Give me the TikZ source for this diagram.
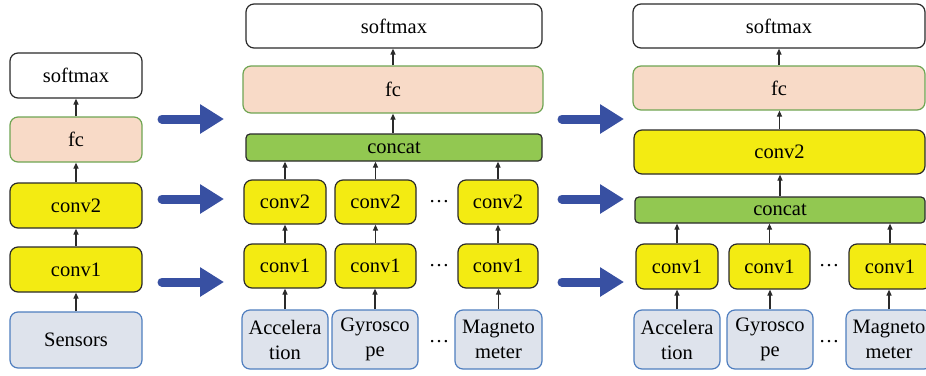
\documentclass[tikz,border=0pt]{standalone}
\usepackage{fontspec}
\setmainfont{Liberation Serif}
\usetikzlibrary{arrows.meta}
\definecolor{cyel}{HTML}{F3EB12}
\definecolor{cpeach}{HTML}{F8DAC7}
\definecolor{cpeachb}{HTML}{6FA553}
\definecolor{cgreen}{HTML}{92C851}
\definecolor{csens}{HTML}{DEE3EC}
\definecolor{csensb}{HTML}{4F7EBF}
\definecolor{cblue}{HTML}{3850A2}
\definecolor{cedge}{HTML}{2A2A2A}
\tikzset{
  box/.style={rectangle, rounded corners=8pt, line width=1.2pt, draw=cedge, inner sep=0pt,
    font=\fontsize{20.5}{25}\selectfont, align=center},
  smbox/.style={box, fill=white},
  fcbox/.style={box, fill=cpeach, draw=cpeachb},
  convbox/.style={box, fill=cyel},
  catbox/.style={box, fill=cgreen, rounded corners=4pt},
  sensbox/.style={box, fill=csens, draw=csensb},
  sarrow/.style={line width=1.2pt, draw=cedge, -{Triangle[length=6pt,width=5pt]}},
  bigarrow/.style={line width=9pt, draw=cblue, line cap=round, -{Triangle[length=24pt,width=28pt]}},
  dotsn/.style={font=\fontsize{20.5}{25}\selectfont, inner sep=0pt}
}
\begin{document}
\begin{tikzpicture}[x=1pt,y=-1pt]
\clip (0,0) rectangle (926,375);
\useasboundingbox (0,0) rectangle (926,375);
% left column
\node[smbox, minimum width=132, minimum height=45] (ls) at (76,75.5) {softmax};
\node[fcbox, minimum width=132, minimum height=45] (lf) at (76,139.5) {fc};
\node[convbox, minimum width=132, minimum height=45] (lc2) at (76,205.5) {conv2};
\node[convbox, minimum width=132, minimum height=45] (lc1) at (76,269.5) {conv1};
\node[sensbox, minimum width=132, minimum height=56] (lsn) at (76,340) {Sensors};
\draw[sarrow] (lsn.north) -- (lc1.south);
\draw[sarrow] (lc1.north) -- (lc2.south);
\draw[sarrow] (lc2.north) -- (lf.south);
\draw[sarrow] (lf.north) -- (ls.south);
% middle column
\node[smbox, minimum width=296, minimum height=44] (ms) at (394,26) {softmax};
\node[fcbox, minimum width=300, minimum height=47] (mf) at (393,89.5) {fc};
\node[catbox, minimum width=296, minimum height=27] (mcat) at (394,147.5) {concat};
\node[convbox, minimum width=82, minimum height=44] (m2a) at (285,202) {conv2};
\node[convbox, minimum width=81, minimum height=44] (m2b) at (375.5,202) {conv2};
\node[convbox, minimum width=80, minimum height=44] (m2c) at (498,202) {conv2};
\node[convbox, minimum width=82, minimum height=44] (m1a) at (285,266) {conv1};
\node[convbox, minimum width=81, minimum height=44] (m1b) at (375.5,266) {conv1};
\node[convbox, minimum width=80, minimum height=44] (m1c) at (498,266) {conv1};
\node[sensbox, minimum width=86, minimum height=59] (msa) at (285,339.5) {Accelera\\tion};
\node[sensbox, minimum width=86, minimum height=59] (msb) at (375,339.5) {Gyrosco\\pe};
\node[sensbox, minimum width=87, minimum height=59] (msc) at (498.5,339.5) {Magneto\\meter};
\node[dotsn] (md2) at (439,202) {\dots};
\node[dotsn] (md1) at (439,266) {\dots};
\node[dotsn] (mds) at (439,342) {\dots};
\draw[sarrow] (msa.north) -- (m1a.south);
\draw[sarrow] (msb.north) -- (msb.north |- m1b.south);
\draw[sarrow] (msc.north) -- (msc.north |- m1c.south);
\draw[sarrow] (m1a.north) -- (m2a.south);
\draw[sarrow] (m1b.north) -- (m2b.south);
\draw[sarrow] (m1c.north) -- (m2c.south);
\draw[sarrow] (m2a.north) -- (m2a.north |- mcat.south);
\draw[sarrow] (m2b.north) -- (m2b.north |- mcat.south);
\draw[sarrow] (m2c.north) -- (m2c.north |- mcat.south);
\draw[sarrow] (mcat.north -| mf.south) -- (mf.south);
\draw[sarrow] (mf.north) -- (mf.north |- ms.south);
% right column
\node[smbox, minimum width=292, minimum height=44] (rs) at (779,26) {softmax};
\node[fcbox, minimum width=292, minimum height=44] (rf) at (779,88) {fc};
\node[convbox, minimum width=291, minimum height=44] (rc2) at (779.5,152) {conv2};
\node[catbox, minimum width=290, minimum height=26] (rcat) at (780,210) {concat};
\node[convbox, minimum width=82, minimum height=45] (r1a) at (677,266.5) {conv1};
\node[convbox, minimum width=81, minimum height=45] (r1b) at (769.5,266.5) {conv1};
\node[convbox, minimum width=82, minimum height=45] (r1c) at (890,266.5) {conv1};
\node[sensbox, minimum width=86, minimum height=59] (rsa) at (677,339.5) {Accelera\\tion};
\node[sensbox, minimum width=86, minimum height=59] (rsb) at (770,339.5) {Gyrosco\\pe};
\node[sensbox, minimum width=86, minimum height=59] (rsc) at (889,339.5) {Magneto\\meter};
\node[dotsn] (rd1) at (829,266) {\dots};
\node[dotsn] (rds) at (829,342) {\dots};
\draw[sarrow] (rsa.north) -- (r1a.south);
\draw[sarrow] (rsb.north) -- (rsb.north |- r1b.south);
\draw[sarrow] (rsc.north) -- (rsc.north |- r1c.south);
\draw[sarrow] (r1a.north) -- (r1a.north |- rcat.south);
\draw[sarrow] (r1b.north) -- (r1b.north |- rcat.south);
\draw[sarrow] (r1c.north) -- (r1c.north |- rcat.south);
\draw[sarrow] (rcat.north) -- (rcat.north |- rc2.south);
\draw[sarrow] (rc2.north) -- (rc2.north |- rf.south);
\draw[sarrow] (rf.north) -- (rf.north |- rs.south);
% big blue arrows
\coordinate (a1s) at (162,119); \coordinate (a1e) at (224,119);
\coordinate (a2s) at (162,199); \coordinate (a2e) at (224,199);
\coordinate (a3s) at (162,282); \coordinate (a3e) at (224,282);
\coordinate (b1s) at (562,119); \coordinate (b1e) at (624,119);
\coordinate (b2s) at (562,199); \coordinate (b2e) at (624,199);
\coordinate (b3s) at (562,282); \coordinate (b3e) at (624,282);
\draw[bigarrow] (a1s) -- (a1e);
\draw[bigarrow] (a2s) -- (a2e);
\draw[bigarrow] (a3s) -- (a3e);
\draw[bigarrow] (b1s) -- (b1e);
\draw[bigarrow] (b2s) -- (b2e);
\draw[bigarrow] (b3s) -- (b3e);
\end{tikzpicture}
\end{document}
